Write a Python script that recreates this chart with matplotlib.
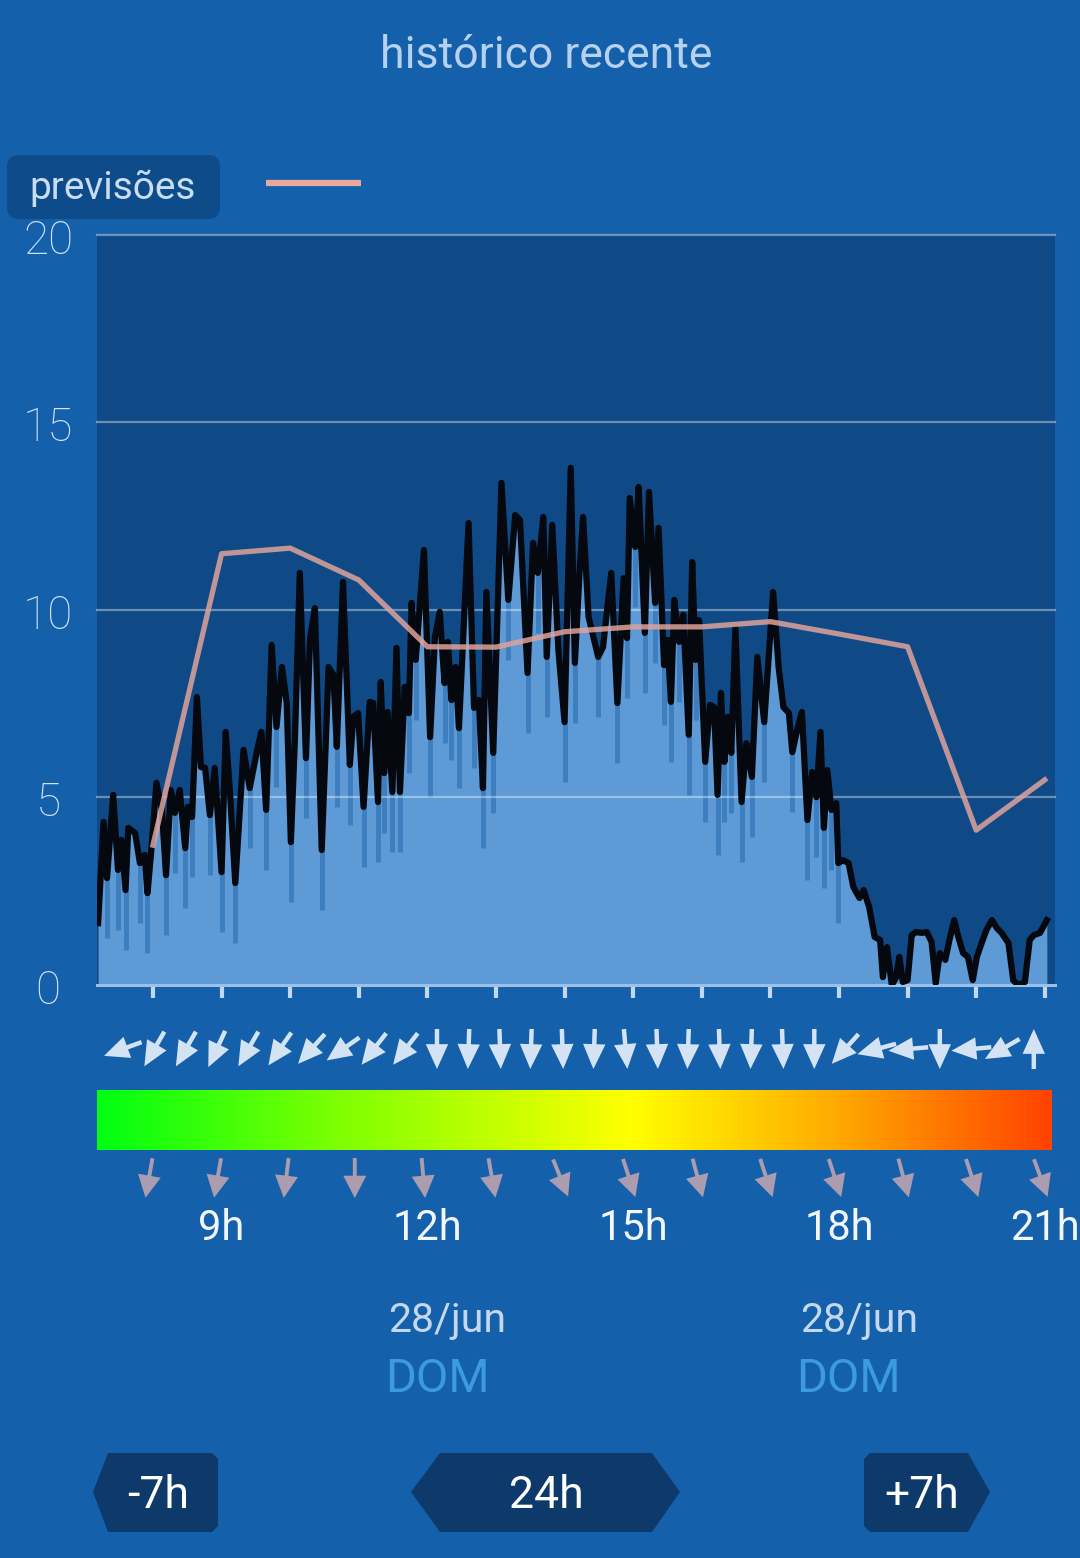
import numpy as np
import matplotlib
matplotlib.use("Agg")
import matplotlib.pyplot as plt
from matplotlib.patches import FancyBboxPatch, Polygon, FancyArrowPatch
from matplotlib.colors import LinearSegmentedColormap
import matplotlib.transforms as mtransforms

plt.rcParams['font.family'] = ['Roboto', 'DejaVu Sans']

# ---------------- data ----------------
obs_hours = [7.20, 7.28, 7.33, 7.42, 7.49, 7.54, 7.60, 7.64, 7.74, 7.81, 7.88, 7.92, 7.98,
             8.05, 8.13, 8.19, 8.26, 8.32, 8.39, 8.47, 8.51, 8.57, 8.64, 8.70, 8.76, 8.83,
             8.90, 9.00, 9.06, 9.12, 9.20, 9.32, 9.41, 9.51, 9.58, 9.65, 9.73, 9.80, 9.88,
             9.95, 10.01, 10.07, 10.14, 10.23, 10.29, 10.36, 10.46, 10.56, 10.63, 10.68,
             10.77, 10.87, 10.92, 10.99, 11.07, 11.16, 11.21, 11.28, 11.32, 11.37, 11.42,
             11.49, 11.55, 11.60, 11.67, 11.73, 11.77, 11.83, 11.95, 12.04, 12.11, 12.18,
             12.25, 12.30, 12.35, 12.41, 12.46, 12.60, 12.68, 12.75, 12.81, 12.86, 12.96,
             13.08, 13.18, 13.28, 13.35, 13.46, 13.54, 13.61, 13.69, 13.74, 13.82, 13.91,
             14.00, 14.09, 14.15, 14.22, 14.27, 14.35, 14.49, 14.56, 14.68, 14.77, 14.86,
             14.91, 14.95, 15.03, 15.08, 15.17, 15.23, 15.32, 15.37, 15.45, 15.50, 15.55,
             15.60, 15.67, 15.73, 15.81, 15.86, 15.91, 15.96, 16.05, 16.12, 16.18, 16.23,
             16.28, 16.33, 16.38, 16.43, 16.49, 16.58, 16.65, 16.73, 16.81, 16.91, 17.04,
             17.12, 17.19, 17.27, 17.32, 17.40, 17.46, 17.54, 17.61, 17.67, 17.73, 17.78,
             17.83, 17.89, 17.96, 17.99, 18.06, 18.14, 18.21, 18.30, 18.36, 18.44, 18.52,
             18.60, 18.64, 18.70, 18.77, 18.83, 18.88, 18.93, 19.00, 19.06, 19.12, 19.21,
             19.28, 19.35, 19.41, 19.47, 19.55, 19.61, 19.68, 19.74, 19.81, 19.88, 19.95,
             20.01, 20.08, 20.15, 20.23, 20.30, 20.37, 20.47, 20.54, 20.61, 20.71, 20.78,
             20.84, 20.93, 21.03]
obs_speed = [1.65, 4.35, 2.85, 5.07, 3.07, 3.87, 2.53, 4.19, 4.05, 3.25, 3.47, 2.45, 3.68,
             5.39, 4.67, 2.93, 5.20, 4.59, 5.20, 3.65, 4.75, 4.48, 7.68, 5.81, 5.79, 4.53,
             5.79, 3.01, 6.75, 5.20, 2.72, 6.27, 5.25, 6.19, 6.75, 4.67, 9.07, 6.88, 8.48,
             7.52, 3.81, 6.61, 10.99, 6.05, 9.25, 10.05, 3.60, 8.48, 8.27, 6.35,
             10.75, 5.87, 7.15, 7.25, 4.75, 7.55, 7.52, 4.88, 8.08, 5.65, 7.28,
             5.15, 8.99, 5.15, 7.95, 7.25, 10.19, 8.67, 11.60, 6.61, 9.28, 9.95,
             8.05, 9.15, 7.60, 8.48, 6.85, 12.32, 7.39, 7.60, 5.25, 10.48, 6.19,
             13.39, 10.27, 12.53, 12.40, 8.32, 11.79, 10.99, 12.48, 8.75, 12.27, 8.93,
             7.01, 13.79, 8.59, 11.07, 12.48, 9.81, 8.75, 9.01, 10.99, 7.52, 10.85,
             9.25, 12.99, 11.68, 13.28, 9.39, 13.15, 10.19, 12.19, 8.53, 9.20, 7.55,
             10.27, 9.15, 9.87, 6.67, 11.28, 8.67, 9.73, 5.95, 7.47, 7.41, 5.07,
             7.79, 5.95, 7.15, 6.19, 9.52, 4.88, 6.45, 5.55, 8.75, 7.01, 10.48,
             8.48, 7.41, 7.25, 6.21, 6.88, 7.28, 4.40, 5.68, 5.01, 6.75, 4.19,
             5.73, 4.67, 4.85, 3.25, 3.33, 3.25, 2.61, 2.32, 2.53, 2.08, 1.28,
             1.20, 0.21, 1.01, 0.00, 0.19, 0.75, 0.08, 0.13, 1.33, 1.41, 1.39,
             1.41, 1.15, 0.05, 0.85, 0.67, 1.20, 1.73, 1.28, 0.85, 0.75, 0.13,
             0.75, 1.12, 1.47, 1.73, 1.52, 1.39, 1.12, 0.13, 0.00, 0.08, 1.20,
             1.33, 1.39, 1.73]

fc_hours = [8, 9, 10, 11, 12, 13, 14, 15, 16, 17, 18, 19, 20, 21]
fc_speed = [3.73, 11.5, 11.65, 10.8, 9.02, 9.01, 9.42, 9.55, 9.55, 9.69, 9.36, 9.02, 4.13, 5.47]

dir_hours = [7.56, 8.02, 8.48, 8.93, 9.39, 9.85, 10.31, 10.77, 11.22, 11.68, 12.14, 12.60,
             13.06, 13.51, 13.97, 14.43, 14.89, 15.35, 15.80, 16.26, 16.72, 17.18, 17.64,
             18.09, 18.55, 19.01, 19.47, 19.93, 20.38, 20.84]
dir_angles = [200, 240, 240, 245, 240, 235, 228, 215, 232, 232, 270, 268, 272, 268, 272,
              268, 275, 272, 268, 272, 268, 272, 270, 228, 195, 185, 270, 185, 210, 90]

fc_dir_hours = [8, 9, 10, 11, 12, 13, 14, 15, 16, 17, 18, 19, 20, 21]
fc_dir_angles = [260, 260, 263, 270, 275, 280, 292, 288, 285, 288, 288, 285, 288, 290]

y_ticks = [0, 5, 10, 15, 20]
hour_ticks = [8, 9, 10, 11, 12, 13, 14, 15, 16, 17, 18, 19, 20, 21]
hour_label_hours = [9, 12, 15, 18, 21]
hour_labels = ['9h', '12h', '15h', '18h', '21h']
date_hours = [11.43, 17.43]
date_labels = ['28/jun', '28/jun']
day_labels = ['DOM', 'DOM']

# ---------------- style ----------------
W, H = 1080, 1558
BG = '#1560ab'
PLOT_BG = '#0f4a87'
FILL = '#5d9ad6'
DARK_STRIPE = '#3a7bbd'

fig = plt.figure(figsize=(W / 100, H / 100), dpi=100)
fig.patch.set_facecolor(BG)

ax = fig.add_axes([97 / W, 1 - 985 / H, (1055 - 97) / W, (985 - 235) / H])
ax.set_facecolor(PLOT_BG)
ax.set_xlim(7.184, 21.149)
ax.set_ylim(0, 20)
for s in ax.spines.values():
    s.set_visible(False)

t = np.array(obs_hours)
v = np.array(obs_speed)
ax.fill_between(t, 0, v, color=FILL, lw=0, zorder=1)
# darker stripes below valleys
for i in range(1, len(v) - 1):
    if v[i] < v[i - 1] and v[i] < v[i + 1] and v[i] > 2.4:
        ax.vlines(t[i], max(v[i] - 1.6, 0), v[i], color=DARK_STRIPE, lw=3.5, alpha=0.9, zorder=1.5)

for yv in y_ticks[1:]:
    ax.axhline(yv, color='white', alpha=0.38, lw=1.6, zorder=2, clip_on=False)
ax.axhline(0, color='#9cc0e6', lw=2.2, zorder=2, clip_on=False)

ax.plot(t, v, color='#05080f', lw=4.5, solid_joinstyle='round', zorder=3)
ax.plot(fc_hours, fc_speed, color='#e0a39a', alpha=0.85, lw=3.8, zorder=4)

ax.set_xticks(hour_ticks)
ax.set_xticklabels([])
ax.set_yticks([])
ax.tick_params(axis='x', direction='out', length=9, width=3, color='#c0d8f0', pad=0)

# y labels, centred
ylab_tr = mtransforms.offset_copy(
    mtransforms.blended_transform_factory(ax.transAxes, ax.transData), fig=fig, x=0, y=-6, units='dots')
for yv in y_ticks:
    ax.text(-0.0511, yv, str(yv), transform=ylab_tr, ha='center', va='center',
            fontsize=33, fontweight='light', color='#cfe2f7', clip_on=False)

# labels below using hour positions
bt = mtransforms.blended_transform_factory(ax.transData, fig.transFigure)
for hh, lab in zip(hour_label_hours, hour_labels):
    ax.text(hh, 1 - 1228 / H, lab, transform=bt, ha='center', va='center',
            fontsize=30, color='#f2f7ff', clip_on=False)
for hh, d, dd in zip(date_hours, date_labels, day_labels):
    ax.text(hh, 1 - 1320 / H, d, transform=bt, ha='left', va='center',
            fontsize=29.5, color='#c3d8ef', clip_on=False)
    ax.text(hh - 0.05, 1 - 1379 / H, dd, transform=bt, ha='left', va='center',
            fontsize=34, color='#3c9ae0', clip_on=False)

# gradient bar
gax = fig.add_axes([97 / W, 1 - 1150 / H, (1052 - 97) / W, 60 / H])
cmap = LinearSegmentedColormap.from_list('speed', [
    (0.0, '#00ff12'), (0.25, '#7dff00'), (0.56, '#ffff00'), (0.78, '#ffa800'), (1.0, '#ff4300')])
gax.imshow(np.linspace(0, 1, 512)[None, :], aspect='auto', cmap=cmap, extent=(0, 1, 0, 1))
gax.set_axis_off()

# overlay in pixel coordinates (y downward)
ov = fig.add_axes([0, 0, 1, 1])
ov.set_xlim(0, W)
ov.set_ylim(H, 0)
ov.set_axis_off()
ov.patch.set_alpha(0)

fig.canvas.draw()

def hour_px(h):
    return ax.transData.transform((h, 0))[0]

def draw_arrow(cx, cy, ang, length, color, lw, hl, hw):
    a = np.deg2rad(ang)
    dx, dy = np.cos(a) * length / 2, -np.sin(a) * length / 2
    arr = FancyArrowPatch((cx - dx, cy - dy), (cx + dx, cy + dy),
                          arrowstyle=f'-|>,head_length={hl},head_width={hw}',
                          mutation_scale=20, color=color, lw=lw, shrinkA=0, shrinkB=0,
                          joinstyle='miter', capstyle='butt')
    ov.add_patch(arr)

for hh, ang in zip(dir_hours, dir_angles):
    draw_arrow(hour_px(hh), 1049, ang, 40, '#d3e3f4', 3.2, 0.62, 0.28)

for hh, ang in zip(fc_dir_hours, fc_dir_angles):
    draw_arrow(hour_px(hh) - 4, 1178, ang, 40, '#ab9cb0', 2.8, 0.58, 0.3)

# title
ov.text(546, 56, 'histórico recente', ha='center', va='center', fontsize=32, color='#b6d1ee')

# legend box
ov.add_patch(FancyBboxPatch((7, 155), 213, 64, boxstyle='round,pad=0,rounding_size=12',
                            fc='#0e4b8a', ec='none'))
ov.text(113, 188, 'previsões', ha='center', va='center', fontsize=28, color='#c8ddf2')
ov.plot([266, 361], [183, 183], color='#e9a99c', lw=4.5, solid_capstyle='butt')

# buttons
BTN = '#0e3a6b'
ov.add_patch(Polygon([(93, 1492), (108, 1453), (212, 1453), (218, 1459), (218, 1526),
                      (212, 1532), (108, 1532)], closed=True, fc=BTN, ec='none'))
ov.add_patch(Polygon([(411, 1492), (440, 1453), (652, 1453), (680, 1492), (652, 1532),
                      (440, 1532)], closed=True, fc=BTN, ec='none'))
ov.add_patch(Polygon([(864, 1459), (870, 1453), (968, 1453), (990, 1492), (968, 1532),
                      (870, 1532), (864, 1526)], closed=True, fc=BTN, ec='none'))
for x, s in [(158, '-7h'), (546, '24h'), (922, '+7h')]:
    ov.text(x, 1496, s, ha='center', va='center', fontsize=32, color='white')

fig.savefig('out.png', dpi=100, facecolor=fig.get_facecolor())
